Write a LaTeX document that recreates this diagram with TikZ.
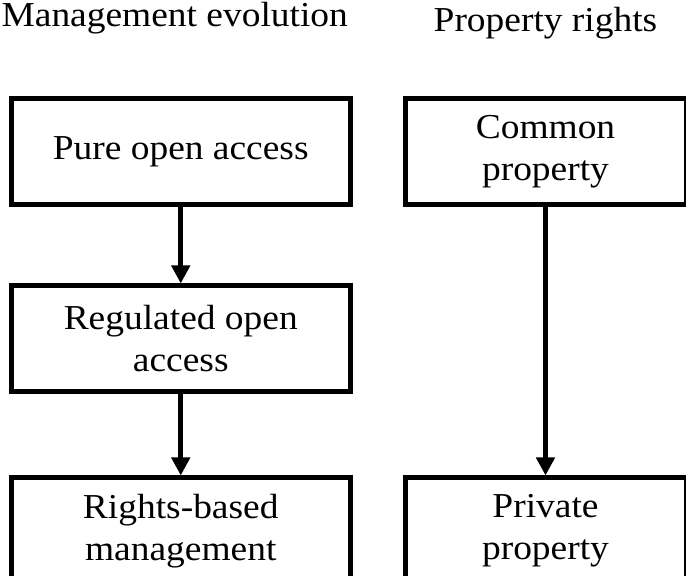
\documentclass[tikz,border=0pt]{standalone}
\usepackage{fontspec}
\setmainfont[FakeStretch=1.07]{Liberation Serif}
\usepackage{xcolor}
\usetikzlibrary{positioning,arrows.meta}

\begin{document}
\begin{tikzpicture}[node distance = 38pt, stage/.style={
					rectangle, line width = 2.5pt, draw = black, fill = white,
					minimum height = 53pt, inner sep = 0pt, align = center,
					font = \fontsize{17.5}{21}\selectfont},
					heading/.style={font = \fontsize{17.5}{21}\selectfont, inner sep = 0pt},
					flow/.style={line width = 2.5pt, -{Triangle[width=9pt,length=9pt]}}]
		\useasboundingbox (0,0) rectangle (343pt,-288pt);
		\node (A) [stage, minimum width = 169.25pt] at (90.375pt,-76pt) {Pure open access};
		\node (B) [stage, minimum width = 169.25pt, below=of A] {Regulated open\\access};
		\node (C) [stage, minimum width = 169.25pt, below=40.5pt of B] {Rights-based\\management};
		\node (AA) [stage, minimum width = 140.5pt, right=25pt of A.north east,anchor=north west] {Common\\property};
		\node (CC) [stage, minimum width = 140.5pt, right=25pt of C.north east,anchor=north west] {Private\\property};
		\node (T) [heading, above=35pt of A.north,anchor=base, xshift=-3pt] {Management evolution};
		\node (TT) [heading, above=32.5pt of AA.north,anchor=base] {Property rights};
		\draw[flow] (A) -- (B);
		\draw[flow] (B) -- (C);
		\draw[flow] (AA) -- (CC);
\end{tikzpicture}
\end{document}
